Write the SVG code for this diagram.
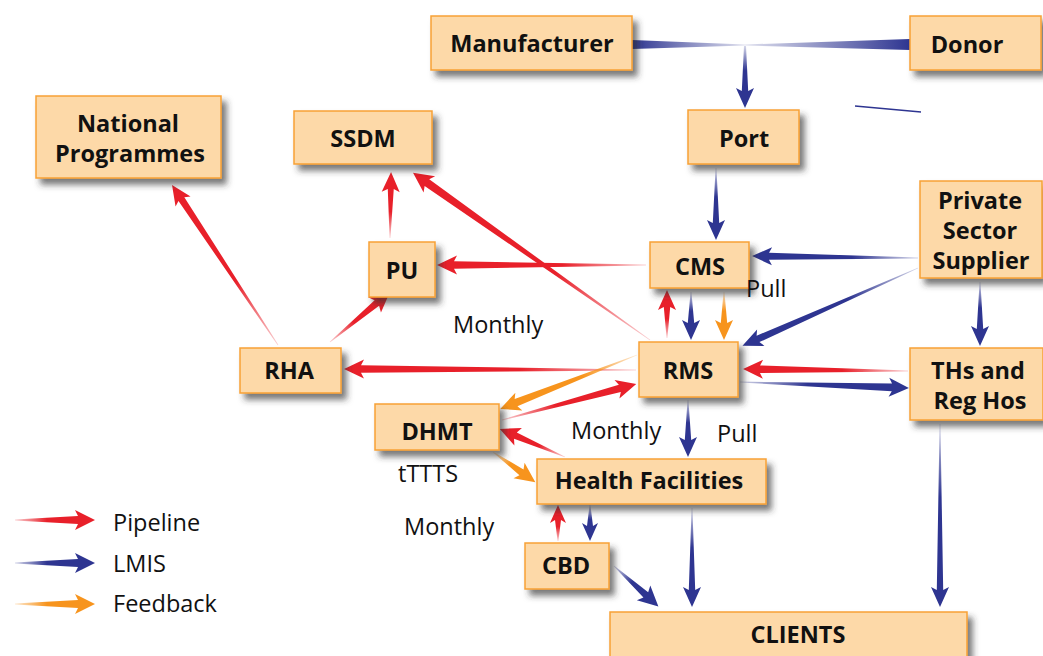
<svg xmlns="http://www.w3.org/2000/svg" width="1043" height="656" viewBox="0 0 1043 656">
<defs>
<filter id="sh" x="-20%" y="-20%" width="150%" height="160%">
<feDropShadow dx="5" dy="6" stdDeviation="3" flood-color="#333" flood-opacity="0.65"/>
</filter>
<linearGradient id="gr" x1="0" y1="0" x2="1" y2="0"><stop offset="0" stop-color="#E8202A" stop-opacity="0.2"/><stop offset="0.4" stop-color="#E8202A"/></linearGradient>
<linearGradient id="gb" x1="0" y1="0" x2="1" y2="0"><stop offset="0" stop-color="#2E3591" stop-opacity="0.2"/><stop offset="0.4" stop-color="#2E3591"/></linearGradient>
<linearGradient id="go" x1="0" y1="0" x2="1" y2="0"><stop offset="0" stop-color="#F7941D" stop-opacity="0.2"/><stop offset="0.4" stop-color="#F7941D"/></linearGradient>
<linearGradient id="gm" x1="0" y1="0" x2="1" y2="0"><stop offset="0" stop-color="#2E3591"/><stop offset="1" stop-color="#2E3591" stop-opacity="0.15"/></linearGradient>
<linearGradient id="gd" x1="1" y1="0" x2="0" y2="0"><stop offset="0" stop-color="#2E3591"/><stop offset="1" stop-color="#2E3591" stop-opacity="0.15"/></linearGradient>
</defs>
<style>
.box{fill:#FDD9A8;stroke:#F7A135;stroke-width:1.5;filter:url(#sh)}
.lbl{font-family:"Open Sans","Liberation Sans",sans-serif;font-weight:bold;font-size:23.5px;fill:#111;text-anchor:middle}
.txt{font-family:"Open Sans","Liberation Sans",sans-serif;font-size:23.5px;fill:#111}
.r{fill:url(#gr)}
.b{fill:url(#gb)}
.o{fill:url(#go)}
</style>
<rect width="1043" height="656" fill="#fff"/>
<g id="connectors">
<polygon points="632,40 632,49 745,45.5 745,44.5" fill="url(#gm)"/>
<polygon points="910,39 910,50 745,45.5 745,44.5" fill="url(#gd)"/>
<line x1="855" y1="106" x2="921" y2="112" stroke="#2E3591" stroke-width="1.5"/>
<path class="b" transform="translate(745,46) rotate(90)" d="M0,-1 L45,-3.2 L42,-9 L62,0 L42,9 L45,3.2 L0,1Z"/>
<path class="b" transform="translate(716,168) rotate(90)" d="M0,-0.4 L55,-3.2 L52,-9 L72,0 L52,9 L55,3.2 L0,0.4Z"/>
<path class="b" transform="translate(918,258) rotate(180.69)" d="M0,-0.4 L149,-3.5 L146,-9 L166,0 L146,9 L149,3.5 L0,0.4Z"/>
<path class="b" transform="translate(918,268) rotate(156.1)" d="M0,-0.4 L175,-3.5 L172,-9 L192,0 L172,9 L175,3.5 L0,0.4Z"/>
<path class="b" transform="translate(980,282) rotate(90)" d="M0,-0.4 L47,-3.2 L44,-9 L64,0 L44,9 L47,3.2 L0,0.4Z"/>
<path class="b" transform="translate(691,292) rotate(90)" d="M0,-0.4 L31,-3.2 L28,-9 L48,0 L28,9 L31,3.2 L0,0.4Z"/>
<path class="b" transform="translate(740,382) rotate(2.03)" d="M0,-0.4 L152,-3.8 L149,-9.5 L169,0 L149,9.5 L152,3.8 L0,0.4Z"/>
<path class="b" transform="translate(688,400) rotate(90)" d="M0,-0.4 L40,-3.2 L37,-9 L57,0 L37,9 L40,3.2 L0,0.4Z"/>
<path class="b" transform="translate(590,505) rotate(90)" d="M0,-0.4 L21,-3 L18,-8 L36,0 L18,8 L21,3 L0,0.4Z"/>
<path class="b" transform="translate(692,508) rotate(90)" d="M0,-0.4 L82,-3.2 L79,-9 L99,0 L79,9 L82,3.2 L0,0.4Z"/>
<path class="b" transform="translate(940,424) rotate(90)" d="M0,-0.4 L166,-3.2 L163,-9 L183,0 L163,9 L166,3.2 L0,0.4Z"/>
<path class="b" transform="translate(614,566) rotate(42.3)" d="M0,-0.4 L43,-3.5 L40,-10 L60,0 L40,10 L43,3.5 L0,0.4Z"/>
<path class="r" transform="translate(278,345) rotate(-123.5)" d="M0,-0.4 L175,-3.5 L172,-9 L192,0 L172,9 L175,3.5 L0,0.4Z"/>
<path class="r" transform="translate(330,342) rotate(-39.8)" d="M0,-0.4 L61,-3.5 L58,-10 L78,0 L58,10 L61,3.5 L0,0.4Z"/>
<path class="r" transform="translate(390,238) rotate(-89.1)" d="M0,-0.4 L49,-3 L46,-9 L66,0 L46,9 L49,3 L0,0.4Z"/>
<path class="r" transform="translate(650,340) rotate(-144.8)" d="M0,-0.4 L273,-4 L270,-10 L290,0 L270,10 L273,4 L0,0.4Z"/>
<path class="r" transform="translate(646,265) rotate(180)" d="M0,-0.4 L192,-3.8 L189,-9.5 L209,0 L189,9.5 L192,3.8 L0,0.4Z"/>
<path class="r" transform="translate(667,338) rotate(-90)" d="M0,-0.4 L31,-3.2 L28,-9 L48,0 L28,9 L31,3.2 L0,0.4Z"/>
<path class="r" transform="translate(636,370) rotate(-179.8)" d="M0,-0.4 L275,-3.8 L272,-9.5 L292,0 L272,9.5 L275,3.8 L0,0.4Z"/>
<path class="r" transform="translate(908,371) rotate(-179.3)" d="M0,-0.4 L148,-3.8 L145,-9.5 L165,0 L145,9.5 L148,3.8 L0,0.4Z"/>
<path class="r" transform="translate(502,420) rotate(-15)" d="M0,-0.4 L122,-3.8 L119,-9.5 L139,0 L119,9.5 L122,3.8 L0,0.4Z"/>
<path class="r" transform="translate(565,457) rotate(-156.7)" d="M0,-0.4 L54,-3.5 L51,-9.5 L71,0 L51,9.5 L54,3.5 L0,0.4Z"/>
<path class="r" transform="translate(558,541) rotate(-90)" d="M0,-0.4 L21,-3 L18,-8 L36,0 L18,8 L21,3 L0,0.4Z"/>
<path class="o" transform="translate(724,292) rotate(90)" d="M0,-0.4 L31,-3.2 L28,-9 L48,0 L28,9 L31,3.2 L0,0.4Z"/>
<path class="o" transform="translate(637,355) rotate(158.5)" d="M0,-0.4 L130,-3.8 L127,-9.5 L147,0 L127,9.5 L130,3.8 L0,0.4Z"/>
<path class="o" transform="translate(493,452) rotate(35.5)" d="M0,-0.4 L35,-3.5 L32,-9.5 L52,0 L32,9.5 L35,3.5 L0,0.4Z"/>
</g>
<g id="legend">
<path class="r" transform="translate(15,520)" d="M0,-0.5 L63,-4 L60,-10 L80,0 L60,10 L63,4 L0,0.5Z"/>
<path class="b" transform="translate(15,563)" d="M0,-0.5 L63,-4 L60,-10 L80,0 L60,10 L63,4 L0,0.5Z"/>
<path class="o" transform="translate(15,604)" d="M0,-0.5 L63,-4 L60,-10 L80,0 L60,10 L63,4 L0,0.5Z"/>
<text class="txt" x="113" y="531">Pipeline</text>
<text class="txt" x="113" y="572">LMIS</text>
<text class="txt" x="113" y="612">Feedback</text>
</g>
<g id="manufacturer"><rect class="box" x="431" y="16" width="201" height="54"/><text class="lbl" x="532" y="52">Manufacturer</text></g>
<g id="donor"><rect class="box" x="910" y="16" width="131" height="54"/><text class="lbl" x="967" y="53">Donor</text></g>
<g id="port"><rect class="box" x="688" y="110" width="111" height="54"/><text class="lbl" x="744" y="147">Port</text></g>
<g id="ssdm"><rect class="box" x="294" y="111" width="138" height="53"/><text class="lbl" x="363" y="147">SSDM</text></g>
<g id="national-programmes"><rect class="box" x="36" y="96" width="185" height="82"/><text class="lbl" x="128" y="132">National</text><text class="lbl" x="130" y="162">Programmes</text></g>
<g id="pu"><rect class="box" x="369" y="242" width="66" height="55"/><text class="lbl" x="402" y="279">PU</text></g>
<g id="cms"><rect class="box" x="650" y="242" width="99" height="46"/><text class="lbl" x="700" y="275">CMS</text></g>
<g id="private-sector-supplier"><rect class="box" x="920" y="181" width="122" height="97"/><text class="lbl" x="980" y="209">Private</text><text class="lbl" x="980" y="239">Sector</text><text class="lbl" x="981" y="269">Supplier</text></g>
<g id="rha"><rect class="box" x="240" y="348" width="101" height="45"/><text class="lbl" x="289" y="379">RHA</text></g>
<g id="rms"><rect class="box" x="639" y="342" width="99" height="55"/><text class="lbl" x="688" y="379">RMS</text></g>
<g id="ths-reg-hos"><rect class="box" x="910" y="348" width="133" height="72"/><text class="lbl" x="978" y="379">THs and</text><text class="lbl" x="980" y="409">Reg Hos</text></g>
<g id="dhmt"><rect class="box" x="375" y="404" width="124" height="46"/><text class="lbl" x="437" y="440">DHMT</text></g>
<g id="health-facilities"><rect class="box" x="537" y="459" width="229" height="45"/><text class="lbl" x="649" y="489">Health Facilities</text></g>
<g id="cbd"><rect class="box" x="525" y="543" width="84" height="46"/><text class="lbl" x="566" y="574">CBD</text></g>
<g id="clients"><rect class="box" x="610" y="612" width="357" height="50"/><text class="lbl" x="798" y="643">CLIENTS</text></g>
<g id="labels">
<text class="txt" x="746" y="297">Pull</text>
<text class="txt" x="453" y="333">Monthly</text>
<text class="txt" x="571" y="439">Monthly</text>
<text class="txt" x="717" y="442">Pull</text>
<text class="txt" x="398" y="482">tTTTS</text>
<text class="txt" x="404" y="535">Monthly</text>
</g>
</svg>
